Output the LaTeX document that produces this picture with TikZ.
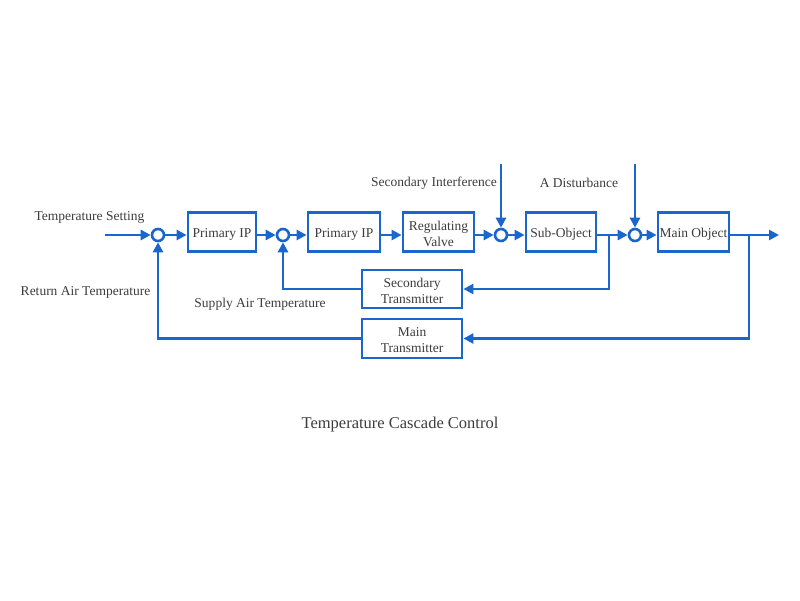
\documentclass[tikz,border=0pt]{standalone}
\usepackage{fontspec}
\setmainfont{Liberation Serif}
\usetikzlibrary{arrows.meta}
\definecolor{lineblue}{RGB}{26,102,204}
\definecolor{txt}{RGB}{60,60,60}
\begin{document}
\begin{tikzpicture}[x=1pt,y=-1pt,
  blk/.style={draw=lineblue,line width=2.8pt,fill=white,minimum width=#1,minimum height=39pt,inner sep=0pt},
  blk/.default=70pt,
  btxt/.style={yshift=-2pt,align=center,inner sep=0pt,font=\fontsize{13.5}{16}\selectfont,text=txt},
  sumc/.style={circle,draw=lineblue,line width=2.6pt,fill=white,minimum size=12pt,inner sep=0pt},
  conn/.style={draw=lineblue,line width=2.8pt},
  arr/.style={conn,-{Triangle[length=10pt,width=10pt]}},
  lbl/.style={font=\fontsize{13.5}{16}\selectfont,text=txt,inner sep=0pt}]
\useasboundingbox (0,0) rectangle (800,600);
% coordinates
\coordinate (in) at (105,235);
\node[sumc] (s1) at (158,235) {};
\node[blk=68pt,label={[btxt]center:Primary IP}] (p1) at (222,232) {};
\node[sumc] (s2) at (283,235) {};
\node[blk=72pt,label={[btxt]center:Primary IP}] (p2) at (344,232) {};
\node[blk=71pt,label={[btxt]center:{Regulating\\Valve}}] (rv) at (438.5,232) {};
\node[sumc] (s3) at (501,235) {};
\node[blk=70pt,label={[btxt]center:Sub-Object}] (so) at (561,232) {};
\node[sumc] (s4) at (635,235) {};
\node[blk=71pt,label={[btxt]center:Main Object}] (mo) at (693.5,232) {};
\coordinate (out) at (779,235);
\coordinate (d1) at (501,164);
\coordinate (d2) at (635,164);
\node[blk=100pt,minimum height=38pt,label={[btxt]center:{Secondary\\Transmitter}}] (st) at (412,289) {};
\node[blk=100pt,minimum height=39pt,label={[btxt]center:{Main\\Transmitter}}] (mt) at (412,338.5) {};
\coordinate (b1) at (609,235);
\coordinate (b2) at (749,235);
% forward path
\draw[arr] (in) -- (s1);
\draw[arr] (s1) -- (p1.west |- s1);
\draw[arr] (p1.east |- s1) -- (s2);
\draw[arr] (s2) -- (p2.west |- s2);
\draw[arr] (p2.east |- s2) -- (rv.west |- s2);
\draw[arr] (rv.east |- s3) -- (s3);
\draw[arr] (s3) -- (so.west |- s3);
\draw[arr] (so.east |- s4) -- (s4);
\draw[arr] (s4) -- (mo.west |- s4);
\draw[arr] (mo.east |- out) -- (out);
\draw[arr] (d1) -- (s3);
\draw[arr] (d2) -- (s4);
% feedback
\draw[arr] (b1) |- (st.east);
\draw[arr] (st.west) -| (s2);
\draw[arr] (b2) |- (mt.east);
\draw[arr] (mt.west) -| (s1);
% labels
\node[lbl] (l1) at (89.5,217) {Temperature Setting};
\node[lbl] (l2) at (434,183) {Secondary Interference};
\node[lbl] (l3) at (579,183) {A Disturbance};
\node[lbl] (l4) at (85.5,292) {Return Air Temperature};
\node[lbl] (l5) at (260,304) {Supply Air Temperature};
\node[lbl,font=\fontsize{16.5}{18}\selectfont] (cap) at (400,425) {Temperature Cascade Control};
\end{tikzpicture}
\end{document}
